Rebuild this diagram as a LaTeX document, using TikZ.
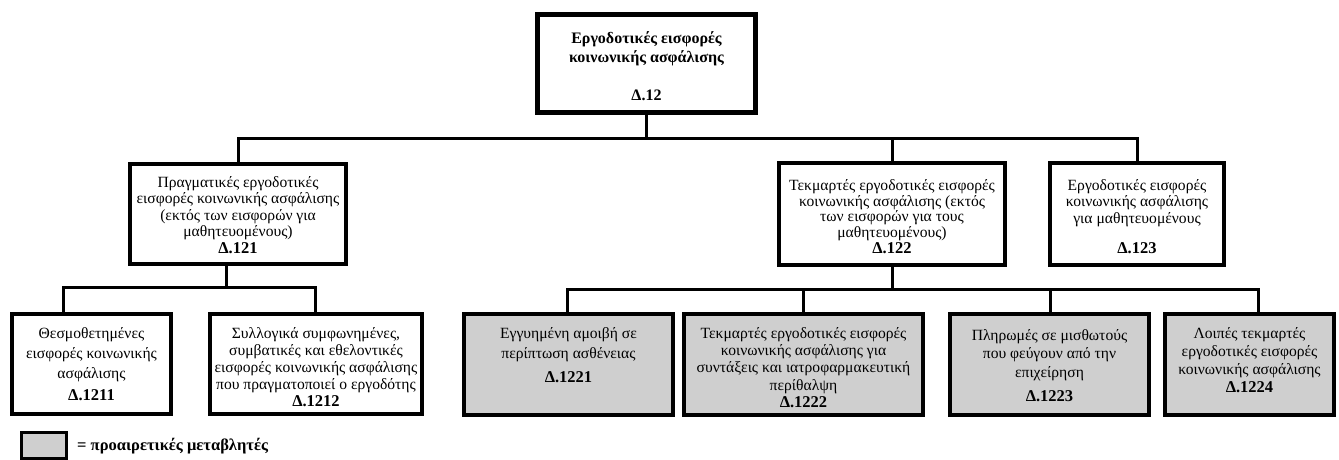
\documentclass[tikz,border=0pt]{standalone}
\usepackage{fontspec}
\setmainfont{Liberation Serif}
\tikzset{
  box/.style={draw=black, line width=3.6pt, rectangle, inner sep=0pt, fill=white},
  optbox/.style={box, fill=black!19},
  topbox/.style={box, line width=5pt},
  conn/.style={line width=3pt, line join=miter},
  txt/.style={align=center, inner sep=0pt, font=\fontsize{15.6}{16.5}\selectfont}
}
\newcommand{\lbl}[1]{{\fontsize{16.5}{18}\selectfont\bfseries #1}}
\begin{document}
\begin{tikzpicture}[x=1pt,y=-1pt]
\useasboundingbox (0,0) rectangle (1339,460);
% boxes
\node[topbox, minimum width=218pt, minimum height=98pt] (r12) at (646.5,63.5) {};
\node[box, minimum width=216pt, minimum height=100pt] (r121) at (238,214) {};
\node[box, minimum width=226pt, minimum height=102pt] (r122) at (892,214) {};
\node[box, minimum width=174pt, minimum height=102pt] (r123) at (1137,214) {};
\node[box, minimum width=159pt, minimum height=100pt] (r1211) at (91.5,364) {};
\node[box, minimum width=212pt, minimum height=100pt] (r1212) at (316,364) {};
\node[optbox, minimum width=209pt, minimum height=101pt] (r1221) at (568.5,364.5) {};
\node[optbox, minimum width=239pt, minimum height=101pt] (r1222) at (803.5,364.5) {};
\node[optbox, minimum width=199pt, minimum height=101pt] (r1223) at (1049.5,364.5) {};
\node[optbox, minimum width=169pt, minimum height=101pt] (r1224) at (1249.5,364.5) {};
\node[optbox, line width=3pt, minimum width=45pt, minimum height=26pt] (leg) at (43.5,445) {};
% texts
\node[txt, font=\fontsize{16}{19}\selectfont\bfseries] (t12) at (646.5,66.5)
  {Εργοδοτικές εισφορές\\κοινωνικής ασφάλισης\\[19pt]Δ.12};
\node[txt] (t121) at (238,215)
  {Πραγματικές εργοδοτικές\\εισφορές κοινωνικής ασφάλισης\\(εκτός των εισφορών για\\μαθητευομένους)\\\lbl{Δ.121}};
\node[txt, font=\fontsize{15.6}{15.8}\selectfont] (t122) at (892,216.5)
  {Τεκμαρτές εργοδοτικές εισφορές\\κοινωνικής ασφάλισης (εκτός\\των εισφορών για τους\\μαθητευομένους)\\\lbl{Δ.122}};
\node[txt] (t123) at (1137,216.5)
  {Εργοδοτικές εισφορές\\κοινωνικής ασφάλισης\\για μαθητευομένους\\[13.5pt]\lbl{Δ.123}};
\node[txt, font=\fontsize{15.6}{20}\selectfont] (t1211) at (91.5,364)
  {Θεσμοθετημένες\\εισφορές κοινωνικής\\ασφάλισης\\[2pt]\lbl{Δ.1211}};
\node[txt, font=\fontsize{15.6}{17}\selectfont] (t1212) at (316,367)
  {Συλλογικά συμφωνημένες,\\συμβατικές και εθελοντικές\\εισφορές κοινωνικής ασφάλισης\\που πραγματοποιεί ο εργοδότης\\\lbl{Δ.1212}};
\node[txt, font=\fontsize{15.6}{20}\selectfont] (t1221) at (568.5,355)
  {Εγγυημένη αμοιβή σε\\περίπτωση ασθένειας\\[4pt]\lbl{Δ.1221}};
\node[txt, font=\fontsize{15.6}{17.2}\selectfont] (t1222) at (803.5,367.5)
  {Τεκμαρτές εργοδοτικές εισφορές\\κοινωνικής ασφάλισης για\\συντάξεις και ιατροφαρμακευτική\\περίθαλψη\\\lbl{Δ.1222}};
\node[txt, font=\fontsize{15.6}{18.5}\selectfont] (t1223) at (1049.5,365.5)
  {Πληρωμές σε μισθωτούς\\που φεύγουν από την\\επιχείρηση\\[5.5pt]\lbl{Δ.1223}};
\node[txt, font=\fontsize{15.6}{18}\selectfont] (t1224) at (1249.5,360)
  {Λοιπές τεκμαρτές\\εργοδοτικές εισφορές\\κοινωνικής ασφάλισης\\\lbl{Δ.1224}};
\node[txt, anchor=west, font=\fontsize{16.5}{18}\selectfont\bfseries] (tleg) at (77,446)
  {= προαιρετικές μεταβλητές};
% connectors level 1-2
\coordinate (b1) at (0,138);
\draw[conn] (r12.south) -- (r12.south |- b1);
\draw[conn] (r121.north) -- (r121.north |- b1) -- (r123.north |- b1) -- (r123.north);
\draw[conn] (r122.north) -- (r122.north |- b1);
% connectors left level 3
\coordinate (u121) at (226,266);
\coordinate (b2) at (0,287);
\coordinate (d1211) at (63,287);
\coordinate (d1212) at (315,287);
\draw[conn] (u121) -- (u121 |- b2);
\draw[conn] (d1211 |- r1211.north) -- (d1211) -- (d1212) -- (d1212 |- r1212.north);
% connectors right level 3
\coordinate (b3) at (0,289);
\coordinate (d1221) at (567,289);
\coordinate (d1222) at (803,289);
\coordinate (d1223) at (1050,289);
\coordinate (d1224) at (1258,289);
\draw[conn] (r122.south) -- (r122.south |- b3);
\draw[conn] (d1221 |- r1221.north) -- (d1221) -- (d1224) -- (d1224 |- r1224.north);
\draw[conn] (d1222) -- (d1222 |- r1222.north);
\draw[conn] (d1223) -- (d1223 |- r1223.north);
\end{tikzpicture}
\end{document}
